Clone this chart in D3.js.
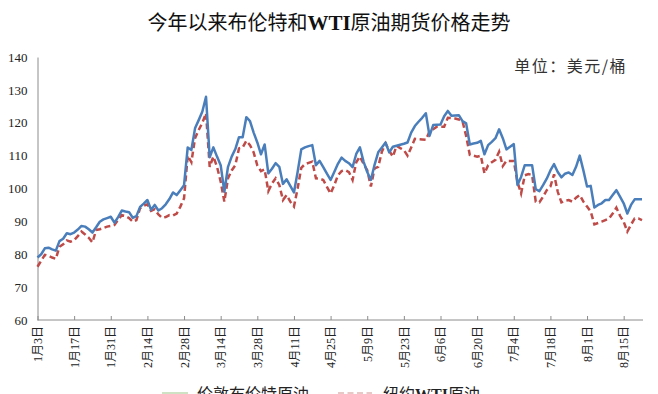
<!DOCTYPE html>
<html>
<head>
<meta charset="utf-8">
<script src="https://cdn.jsdelivr.net/npm/d3@7"></script>
<style>
  body { margin: 0; background: #fff; }
  svg { display: block; }
</style>
</head>
<body>
<svg id="chart" width="658" height="394"></svg>
<script>
// ********************************* Data (trading days, Jan 3 - Aug 22)

var tickLabels = ['1月3日','1月17日','1月31日','2月14日','2月28日','3月14日','3月28日','4月11日',
  '4月25日','5月9日','5月23日','6月6日','6月20日','7月4日','7月18日','8月1日','8月15日'];

var brent = [
  79.0, 80.0, 81.8, 82.0, 81.5, 81.1, 84.0, 84.7, 86.4, 86.1,
  86.6, 87.5, 88.6, 88.4, 87.6, 86.6, 88.2, 89.9, 90.6, 91.0,
  91.4, 89.6, 91.3, 93.3, 93.0, 92.8, 91.1, 91.6, 94.4, 95.4,
  96.5, 93.5, 95.0, 93.3, 94.0, 95.2, 96.8, 98.8, 98.0, 99.5,
  101.0, 112.5, 111.7, 118.3, 120.8, 123.4, 127.9, 109.5, 112.5, 109.7,
  107.1, 99.0, 106.6, 109.7, 112.0, 115.6, 115.6, 121.7, 120.5, 117.0,
  114.0, 110.4, 113.4, 104.6, 106.0, 107.7, 106.6, 101.4, 102.8, 100.8,
  98.8, 105.0, 111.9, 112.5, 112.9, 113.2, 107.1, 108.4, 106.5, 104.5,
  102.6, 105.0, 107.5, 109.4, 108.4, 107.7, 106.5, 110.5, 112.5, 108.2,
  105.0, 102.6, 107.2, 111.0, 112.5, 114.0, 111.0, 112.7, 113.0, 113.3,
  113.6, 114.0, 117.0, 119.0, 120.3, 121.5, 122.9, 116.0, 119.3, 119.4,
  119.5, 122.0, 123.6, 122.1, 122.2, 122.3, 120.5, 119.8, 113.4, 113.7,
  113.9, 114.5, 110.4, 113.2, 114.2, 115.3, 118.0, 115.3, 111.9, 112.7,
  113.5, 101.1, 103.5, 107.1, 107.1, 107.1, 99.8, 99.2, 101.0, 103.0,
  105.5, 107.4, 105.0, 103.4, 104.5, 104.9, 104.1, 106.6, 110.0, 105.5,
  100.6, 100.8, 94.2, 95.0, 95.5, 96.5, 96.5, 98.0, 99.5, 97.5,
  95.5, 92.4, 95.0, 96.7, 96.7, 96.7
];

var wti = [
  76.2, 78.0, 79.8, 79.5, 79.0, 78.6, 82.3, 83.0, 84.2, 83.8,
  84.3, 85.5, 86.9, 86.0, 85.0, 83.6, 87.4, 87.6, 88.0, 88.4,
  88.6, 88.9, 90.5, 91.9, 91.6, 91.0, 89.9, 90.4, 94.0, 94.8,
  95.2, 93.2, 93.7, 92.1, 91.1, 91.3, 91.9, 91.8, 92.4, 94.5,
  97.0, 110.0, 108.0, 115.3, 117.8, 120.0, 122.9, 106.6, 109.7, 106.6,
  102.1, 96.0, 103.1, 105.5, 107.1, 112.2, 112.5, 114.5, 113.2, 111.0,
  107.0, 105.3, 105.8, 99.2, 101.5, 103.1, 101.1, 96.5, 98.0, 96.0,
  94.5, 100.0, 106.3, 107.4, 107.8, 108.2, 103.1, 103.0, 102.6, 100.5,
  98.5, 101.0, 104.0, 105.3, 105.6, 105.0, 102.6, 108.0, 109.7, 107.5,
  105.6, 100.6, 106.1, 106.6, 111.2, 113.7, 111.5, 109.7, 113.0, 112.3,
  111.7, 110.0, 112.5, 115.1, 115.0, 114.9, 114.8, 117.3, 118.0, 118.8,
  118.8, 118.8, 121.5, 121.4, 121.3, 121.0, 120.5, 116.0, 110.2, 110.0,
  109.7, 110.0, 104.6, 107.1, 108.0, 108.7, 111.2, 106.8, 108.4, 108.4,
  108.4, 102.0, 98.5, 104.0, 104.4, 104.1, 96.0, 95.8, 97.5, 99.5,
  100.6, 104.3, 99.0, 95.8, 96.3, 96.5, 96.0, 97.2, 98.0, 96.0,
  94.5, 93.0, 89.1, 89.5, 89.9, 90.4, 90.9, 92.4, 94.2, 91.7,
  89.9, 86.9, 89.0, 90.9, 90.9, 90.4
];

var yTicks = [60, 70, 80, 90, 100, 110, 120, 130, 140];
var labelEvery = 10;

// ********************************* Layout

var svg = d3.select('#chart');
var plotLeft = 37.5, plotRight = 642, plotTop = 57, plotBottom = 320;
var n = brent.length;

var xScale = d3.scaleLinear().domain([0, n - 1]).range([plotLeft, plotRight]);
var yScale = d3.scaleLinear().domain([60, 140]).range([plotBottom, plotTop]);

// ********************************* Title + unit

var title = svg.append('text')
  .attr('x', 329).attr('y', 30)
  .attr('text-anchor', 'middle')
  .attr('font-family', '"Noto Sans CJK SC", sans-serif')
  .attr('font-size', 20)
  .attr('fill', '#111');
title.append('tspan').text('今年以来布伦特和');
title.append('tspan').attr('font-family', '"Liberation Serif", serif')
  .attr('font-weight', 'bold').attr('font-size', 21).text('WTI');
title.append('tspan').text('原油期货价格走势');

svg.append('text')
  .attr('x', 627).attr('y', 72)
  .attr('text-anchor', 'end')
  .attr('font-family', '"Noto Sans CJK SC", sans-serif')
  .attr('font-size', 16)
  .attr('letter-spacing', 1.5)
  .attr('fill', '#333')
  .text('单位：美元/桶');

// ********************************* Axes

var yAxis = d3.axisLeft(yScale).tickValues(yTicks).tickSize(0).tickPadding(10);
var gy = svg.append('g').attr('transform', 'translate(' + plotLeft + ',0)').call(yAxis);
gy.select('.domain').attr('stroke', '#8c8c8c');
gy.selectAll('text')
  .attr('font-family', '"Liberation Serif", serif')
  .attr('font-size', 13)
  .attr('fill', '#222');

var tickIdx = tickLabels.map(function(d, i) { return i * labelEvery; });
var xAxis = d3.axisBottom(xScale)
  .tickValues(tickIdx)
  .tickSize(-4)
  .tickFormat(function(d) { return tickLabels[d / labelEvery]; });
var gx = svg.append('g').attr('transform', 'translate(0,' + plotBottom + ')').call(xAxis);
gx.select('.domain').attr('stroke', '#8c8c8c').attr('d', 'M' + plotLeft + ',0H' + (plotRight + 1));
gx.selectAll('.tick line').attr('stroke', '#8c8c8c');
gx.selectAll('.tick text')
  .attr('font-family', '"Liberation Serif", "Noto Sans CJK SC", serif')
  .attr('font-size', 12)
  .attr('fill', '#222')
  .attr('text-anchor', 'end')
  .attr('transform', 'translate(0,6) rotate(-90)')
  .attr('x', 0).attr('y', 0).attr('dy', '0.35em');

// ********************************* Lines

var line = d3.line()
  .x(function(d, i) { return xScale(i); })
  .y(function(d) { return yScale(d); });

svg.append('path')
  .datum(wti)
  .attr('fill', 'none')
  .attr('stroke', '#be4b48')
  .attr('stroke-width', 2.5)
  .attr('stroke-dasharray', '6,3.5')
  .attr('d', line);

svg.append('path')
  .datum(brent)
  .attr('fill', 'none')
  .attr('stroke', '#4a7ebb')
  .attr('stroke-width', 2.5)
  .attr('stroke-linejoin', 'round')
  .attr('d', line);

// ********************************* Legend (cut by bottom edge)

var legend = svg.append('g');
legend.append('line')
  .attr('x1', 162).attr('x2', 188).attr('y1', 393).attr('y2', 393)
  .attr('stroke', '#cfe3c4').attr('stroke-width', 2);
legend.append('text')
  .attr('x', 197).attr('y', 400)
  .attr('font-family', '"Noto Sans CJK SC", sans-serif')
  .attr('font-size', 16).attr('fill', '#222')
  .text('伦敦布伦特原油');
legend.append('line')
  .attr('x1', 338).attr('x2', 372).attr('y1', 393).attr('y2', 393)
  .attr('stroke', '#e8c8c6').attr('stroke-width', 2)
  .attr('stroke-dasharray', '6,3.5');
var lt = legend.append('text')
  .attr('x', 383).attr('y', 400)
  .attr('font-family', '"Noto Sans CJK SC", sans-serif')
  .attr('font-size', 16).attr('fill', '#222');
lt.append('tspan').text('纽约');
lt.append('tspan').attr('font-family', '"Liberation Serif", serif').attr('font-weight', 'bold').text('WTI');
lt.append('tspan').text('原油');
</script>
</body>
</html>
